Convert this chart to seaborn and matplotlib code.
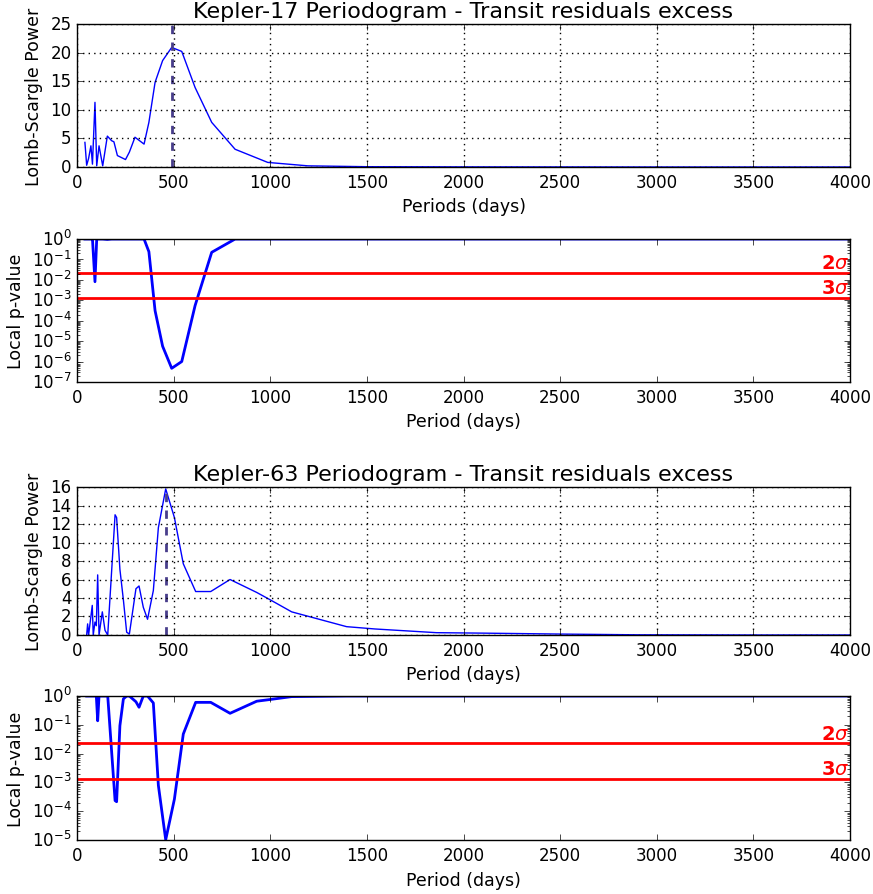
import numpy as np
import pandas as pd
import matplotlib
matplotlib.use("Agg")
import matplotlib.pyplot as plt
import seaborn as sns

plt.style.use("classic")
plt.rcParams["font.family"] = ["DejaVu Sans"]
plt.rcParams["mathtext.fontset"] = "dejavusans"
plt.rcParams["mathtext.default"] = "regular"

# ---------------- Kepler-17 ----------------
k17_period = [41, 50, 60, 72, 80, 93, 102, 114, 133, 157, 179, 191, 209, 251, 271,
              300, 347, 372, 404, 443, 490, 542, 611, 697, 818, 987, 1195, 1500,
              2000, 2500, 3000, 3500, 4000]
k17_power = [4.3, 0.3, 1.5, 3.7, 0.5, 11.3, 0.2, 3.7, 0.2, 5.4, 4.6, 4.4, 2.0, 1.3, 2.6,
             5.2, 4.0, 7.8, 14.8, 18.6, 20.9, 20.2, 13.9, 7.8, 3.1, 0.8, 0.2, 0.05,
             0.02, 0.01, 0.0, 0.0, 0.0]
k17_logp = [0, 0, 0, 0, 0, -2.09, 0, 0, 0, -0.02, 0, 0, 0, 0, 0,
            0, 0, -0.62, -3.51, -5.25, -6.33, -6.0, -3.26, -0.65, 0, 0, 0, 0,
            0, 0, 0, 0, 0]
k17_peak = 492

# ---------------- Kepler-63 ----------------
k63_period = [50, 55, 60, 79, 84, 93, 100, 107, 114, 131, 145, 159, 197, 205, 222, 240,
              257, 271, 305, 321, 343, 365, 395, 421, 459, 504, 550, 614, 692, 792,
              930, 1000, 1111, 1395, 1542, 1860, 2100, 2500, 2900, 3500, 4000]
k63_power = [0.0, 1.2, 0.0, 3.2, 0.0, 1.4, 1.0, 6.5, 0.0, 2.5, 0.5, 0.0, 13.0, 12.7, 7.1, 3.8,
             0.3, 0.1, 5.0, 5.3, 3.0, 1.7, 4.8, 11.6, 15.8, 12.7, 7.7, 4.7, 4.7, 6.0,
             4.6, 3.8, 2.5, 0.9, 0.65, 0.25, 0.2, 0.1, 0.02, 0.0, 0.0]
k63_logp = [0, 0, 0, 0, 0, 0, 0, -0.86, 0, 0, 0, 0, -3.63, -3.67, -1.03, -0.1,
            0, 0, -0.2, -0.39, 0, 0, -0.24, -3.1, -4.99, -3.58, -1.32, -0.22, -0.22, -0.6,
            -0.18, -0.12, -0.02, 0, 0, 0, 0, 0, 0, 0, 0]
k63_peak = 459

p2sigma = 0.02275
p3sigma = 0.00135

fig = plt.figure(figsize=(8.73, 8.95), dpi=100, facecolor="white")
L, W = 0.0882, 0.8855
ax1 = fig.add_axes([L, 0.8123, W, 0.1598])
ax2 = fig.add_axes([L, 0.5721, W, 0.1597])
ax3 = fig.add_axes([L, 0.2894, W, 0.1653])
ax4 = fig.add_axes([L, 0.0603, W, 0.1609])

df17 = pd.DataFrame({"period": k17_period, "power": k17_power,
                     "p": np.power(10.0, k17_logp)})
df63 = pd.DataFrame({"period": k63_period, "power": k63_power,
                     "p": np.power(10.0, k63_logp)})

LABEL_FS = 12.5

def power_panel(ax, df, peak, title, xlabel, ymax, ystep):
    sns.lineplot(data=df, x="period", y="power", ax=ax, color="b", lw=1,
                 estimator=None, sort=False)
    ax.axvline(peak, color="#483D8B", ls="--", lw=2)
    ax.set_xlim(0, 4000)
    ax.set_ylim(0, ymax)
    ax.set_yticks(np.arange(0, ymax + 0.1, ystep))
    ax.set_xticks(np.arange(0, 4001, 500))
    ax.grid(True, color="k", ls=":", lw=1)
    ax.set_title(title, fontsize=16)
    ax.set_xlabel(xlabel, fontsize=LABEL_FS)
    ax.set_ylabel("Lomb-Scargle Power", fontsize=LABEL_FS)

def pval_panel(ax, df, ymin):
    sns.lineplot(data=df, x="period", y="p", ax=ax, color="b", lw=2,
                 estimator=None, sort=False)
    ax.axhline(p2sigma, color="r", lw=2)
    ax.axhline(p3sigma, color="r", lw=2)
    ax.set_yscale("log")
    ax.set_xlim(0, 4000)
    ax.set_ylim(ymin, 1)
    ax.set_xticks(np.arange(0, 4001, 500))
    ax.text(3995, p2sigma * 1.05, r"$\mathbf{2}\mathit{\sigma}$", color="r", fontsize=14,
            ha="right", va="bottom")
    ax.text(3995, p3sigma * 1.05, r"$\mathbf{3}\mathit{\sigma}$", color="r", fontsize=14,
            ha="right", va="bottom")
    ax.set_xlabel("Period (days)", fontsize=LABEL_FS)
    ax.set_ylabel("Local p-value", fontsize=LABEL_FS)
    ax.grid(False)

power_panel(ax1, df17, k17_peak, "Kepler-17 Periodogram - Transit residuals excess",
            "Periods (days)", 25, 5)
pval_panel(ax2, df17, 1e-7)
power_panel(ax3, df63, k63_peak, "Kepler-63 Periodogram - Transit residuals excess",
            "Period (days)", 16, 2)
pval_panel(ax4, df63, 1e-5)

fig.savefig("out.png", dpi=100, facecolor="white")
